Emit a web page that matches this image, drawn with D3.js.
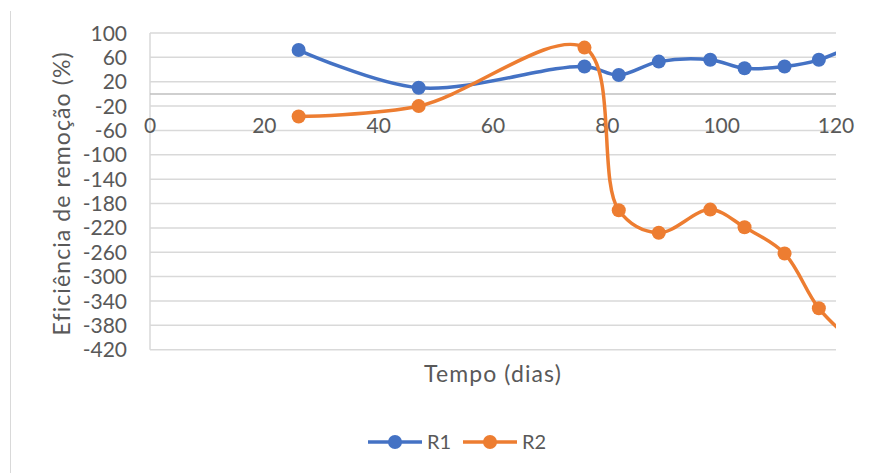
<!DOCTYPE html>
<html><head><meta charset="utf-8">
<script src="https://cdn.jsdelivr.net/npm/d3@7"></script>
<style>body{margin:0;background:#fff;} svg{display:block;font-family:Lato,"Open Sans",sans-serif;}</style>
</head><body>
<svg id="c" width="870" height="473"></svg>
<script>
const dias = [26, 47, 76, 82, 89, 98, 104, 111, 117, 124];
const r1 = [72, 10, 45, 31, 53, 56, 42, 45, 56, 84];
const r2 = [-37, -20, 76, -191, -228, -190, -219, -262, -352, -415];
const xTicks = [0, 20, 40, 60, 80, 100, 120];
const yTicks = [100, 60, 20, -20, -60, -100, -140, -180, -220, -260, -300, -340, -380, -420];
const seriesNames = ["R1", "R2"];
const colors = ["#4472C4", "#ED7D31"];

const svg = d3.select("#c");
const L = 150, R = 836, T = 33, B = 349.7;
const x = d3.scaleLinear().domain([0, 120]).range([L, R]);
const y = d3.scaleLinear().domain([-420, 100]).range([B, T]);

// chart border (left edge)
svg.append("line").attr("x1", 10.5).attr("x2", 10.5).attr("y1", 11).attr("y2", 473)
  .attr("stroke", "#D9D9D9").attr("stroke-width", 1);

// gridlines
svg.append("g").selectAll("line").data(yTicks).join("line")
  .attr("x1", L).attr("x2", R).attr("y1", d => y(d)).attr("y2", d => y(d))
  .attr("stroke", "#D9D9D9").attr("stroke-width", 1.5);
// vertical axis line
svg.append("line").attr("x1", L).attr("x2", L).attr("y1", T).attr("y2", B)
  .attr("stroke", "#D9D9D9").attr("stroke-width", 1.5);
// horizontal axis at 0
svg.append("line").attr("x1", L).attr("x2", R).attr("y1", y(0)).attr("y2", y(0))
  .attr("stroke", "#BFBFBF").attr("stroke-width", 1.5);

// y tick labels
svg.append("g").selectAll("text").data(yTicks).join("text")
  .attr("x", 127).attr("y", d => y(d)).attr("dy", "0.36em")
  .attr("text-anchor", "end").attr("fill", "#595959").attr("font-size", 21)
  .text(d => d);
// x tick labels
svg.append("g").selectAll("text").data(xTicks).join("text")
  .attr("x", d => x(d)).attr("y", 133)
  .attr("text-anchor", "middle").attr("fill", "#595959").attr("font-size", 21)
  .text(d => d);

// axis titles
svg.append("text").attr("transform", `translate(70,${(T + B) / 2 + 2}) rotate(-90)`)
  .attr("text-anchor", "middle").attr("fill", "#595959").attr("font-size", 23)
  .attr("letter-spacing", 1.1)
  .text("Eficiência de remoção (%)");
svg.append("text").attr("x", (L + R) / 2).attr("y", 382)
  .attr("text-anchor", "middle").attr("fill", "#595959").attr("font-size", 23)
  .attr("letter-spacing", 1.1)
  .text("Tempo (dias)");

// clip
svg.append("clipPath").attr("id", "clip").append("rect")
  .attr("x", L).attr("y", 0).attr("width", R - L).attr("height", 473);

const line = d3.line().x(d => x(d[0])).y(d => y(d[1])).curve(d3.curveCatmullRom.alpha(0.5));
const data = [r1, r2].map(vals => dias.map((d, i) => [d, vals[i]]));
const g = svg.append("g").attr("clip-path", "url(#clip)");
data.forEach((pts, k) => {
  g.append("path").datum(pts).attr("d", line).attr("fill", "none")
    .attr("stroke", colors[k]).attr("stroke-width", 3.5).attr("stroke-linecap", "round");
});
data.forEach((pts, k) => {
  g.append("g").selectAll("circle").data(pts).join("circle")
    .attr("cx", d => x(d[0])).attr("cy", d => y(d[1])).attr("r", 7)
    .attr("fill", colors[k]);
});

// legend
const legX = [368, 463];
seriesNames.forEach((name, k) => {
  const lg = svg.append("g").attr("transform", `translate(${legX[k]},442)`);
  lg.append("line").attr("x1", 0).attr("x2", 54).attr("y1", 0).attr("y2", 0)
    .attr("stroke", colors[k]).attr("stroke-width", 3.5);
  lg.append("circle").attr("cx", 27).attr("cy", 0).attr("r", 7).attr("fill", colors[k]);
  lg.append("text").attr("x", 59).attr("y", 0).attr("dy", "0.36em")
    .attr("fill", "#595959").attr("font-size", 20).text(name);
});
</script>
</body></html>
